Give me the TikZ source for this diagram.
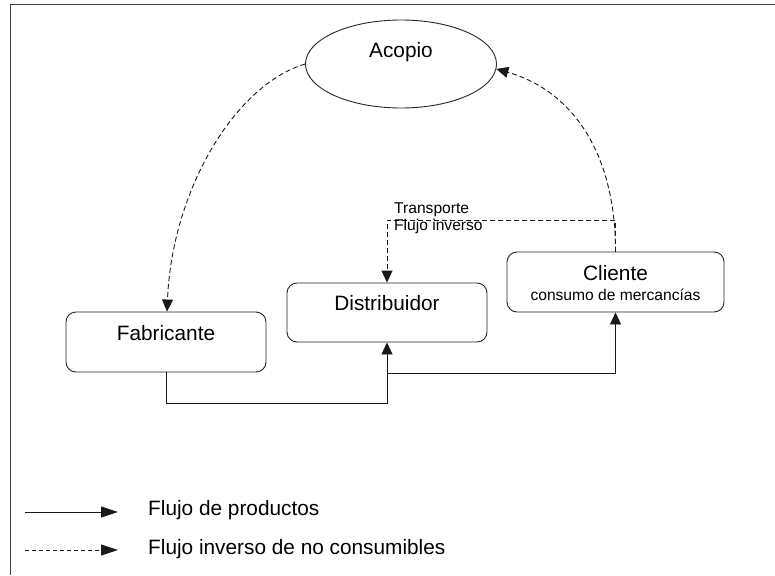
\documentclass[tikz,border=0pt]{standalone}
\usepackage{fontspec}
\setmainfont{Liberation Sans}
\usetikzlibrary{shapes.geometric,arrows.meta}
\begin{document}
\begin{tikzpicture}[x=1pt,y=-1pt,
  box/.style={draw=black!85,line width=0.9pt,rounded corners=10pt,inner sep=0pt},
  big/.style={font=\fontsize{20.8}{24}\selectfont,inner sep=0pt},
  small/.style={font=\fontsize{15.6}{18}\selectfont,inner sep=0pt},
  flow/.style={draw=black!90,line width=0.9pt,-{Triangle[length=12pt,width=11pt]}},
  inv/.style={flow,dash pattern=on 5pt off 3pt},
  legflow/.style={draw=black!90,line width=0.9pt,-{Triangle[length=17pt,width=11pt]}},
  leginv/.style={legflow,dash pattern=on 4pt off 3pt}]
\useasboundingbox (0,0) rectangle (775,575);
\fill[white] (0,0) rectangle (775,575);
% frame
\draw[black!75,line width=1pt] (775,5) -- (10,5) -- (10,575);
% nodes
\node[ellipse,draw=black!85,line width=0.9pt,minimum width=191pt,minimum height=88pt,inner sep=0pt] (acopio) at (401,64) {};
\node[big] (acopiot) at (401,52) {Acopio};
\node[box,minimum width=200pt,minimum height=60pt] (fab) at (166,342) {};
\node[big] (fabt) at (166,333) {Fabricante};
\node[box,minimum width=200pt,minimum height=59pt] (dist) at (387,312.5) {};
\node[big] (distt) at (387,303) {Distribuidor};
\node[box,minimum width=217pt,minimum height=60pt] (cli) at (615.5,282) {};
\node[big] (clit) at (615.5,273) {Cliente};
\node[small] (clis) at (615.5,295) {consumo de mercancías};
% product flow
\coordinate (j) at (387,373);
\draw[flow] (fab.south) -- ++(0,31) -| (dist.south);
\draw[flow] (j) -| (cli.south);
% inverse flow
\coordinate (k) at (615.5,220);
\draw[inv] (cli.north) -- (k) -| (dist.north);
\draw[inv] (cli.north) .. controls (615.5,150) and (570,90) .. (acopio.-3);
\draw[inv] (acopio.west) .. controls (235,85) and (172,190) .. (fab.north -| 167,0);
\node[small,anchor=west] (tr) at (394,210) {Transporte};
\node[small,anchor=west] (fi) at (394,226) {Flujo inverso};
% legend
\coordinate (l1a) at (25,512);
\coordinate (l1b) at (118,512);
\coordinate (l2a) at (25,550);
\coordinate (l2b) at (118,550);
\draw[legflow] (l1a) -- (l1b);
\draw[leginv] (l2a) -- (l2b);
\node[big,anchor=west] (lt1) at (148,510) {Flujo de productos};
\node[big,anchor=west] (lt2) at (148,549) {Flujo inverso de no consumibles};
\end{tikzpicture}
\end{document}
